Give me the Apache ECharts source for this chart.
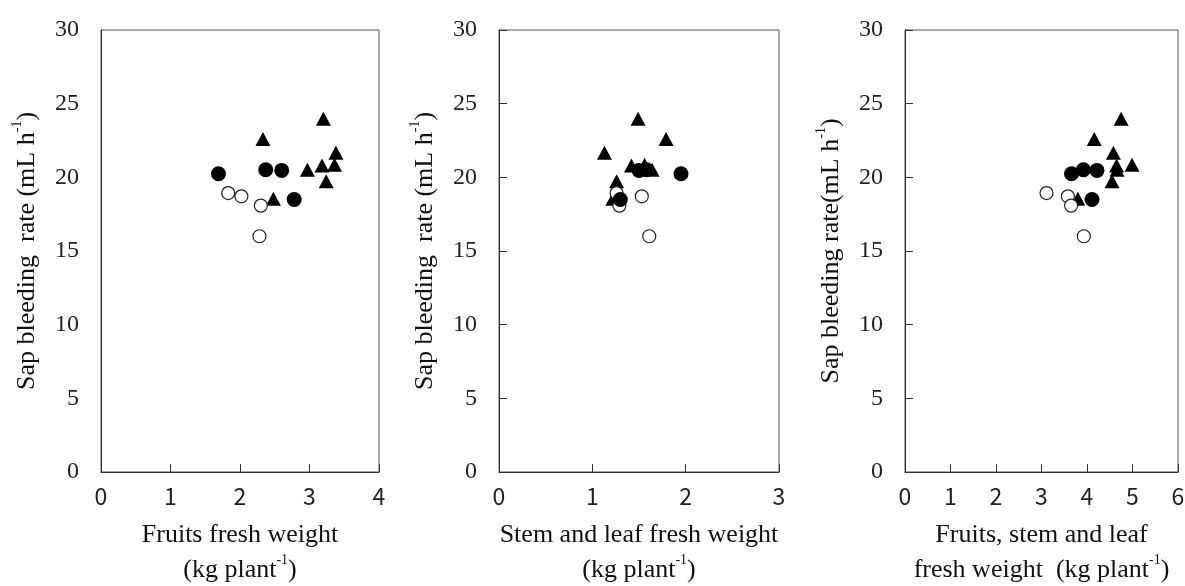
<!DOCTYPE html>
<html>
<head>
<meta charset="utf-8">
<script src="https://cdn.jsdelivr.net/npm/echarts@6/dist/echarts.min.js"></script>
<style>
html, body { margin: 0; padding: 0; background: #fff; }
#chart { width: 1185px; height: 586px; }
</style>
</head>
<body>
<div id="chart"></div>
<script>
// sap bleeding rate (mL h-1), same plants in every panel
const rateOpen = [18.93, 18.71, 18.08, 16.0];
const rateFilled = [20.24, 20.51, 20.47, 18.50];
const rateTri = [23.97, 22.61, 21.67, 20.51, 20.81, 20.85, 19.74, 18.55];

// fruits fresh weight (kg plant-1)
const fruitOpen = [1.83, 2.02, 2.30, 2.28];
const fruitFilled = [1.69, 2.37, 2.60, 2.78];
const fruitTri = [3.20, 2.33, 3.38, 2.97, 3.18, 3.36, 3.24, 2.48];

// stem and leaf fresh weight
const stemOpen = [1.26, 1.53, 1.29, 1.61];
const stemFilled = [1.95, 1.58, 1.50, 1.30];
const stemTri = [1.49, 1.79, 1.13, 1.64, 1.42, 1.56, 1.26, 1.22];

// fruits, stem and leaf fresh weight
const totalOpen = [3.11, 3.58, 3.65, 3.93];
const totalFilled = [3.66, 3.92, 4.22, 4.11];
const totalTri = [4.75, 4.16, 4.58, 4.66, 4.65, 4.99, 4.55, 3.80];

const xMax = [4, 3, 6];
const yTicks = [0, 5, 10, 15, 20, 25, 30];

const serif = 'Liberation Serif';
const pairs = (xs, ys) => xs.map((x, i) => [x, ys[i]]);

const rich = {
  t: { fontFamily: serif, fontSize: 26, lineHeight: 35, color: '#111' },
  s: { fontFamily: serif, fontSize: 14, lineHeight: 33, verticalAlign: 'top', color: '#111' }
};

const xNames = [
  '{t|Fruits fresh weight}\n{t|(kg plant}{s|-1}{t|)}',
  '{t|Stem and leaf fresh weight}\n{t|(kg plant}{s|-1}{t|)}',
  '{t|Fruits, stem and leaf}\n{t|fresh weight  (kg plant}{s|-1}{t|)}'
];
const yNames = [
  '{t|Sap bleeding  rate (mL h}{s|-1}{t|)}',
  '{t|Sap bleeding  rate (mL h}{s|-1}{t|)}',
  '{t|Sap bleeding rate(mL h}{s|-1}{t|)}'
];

const grids = [
  { left: 101, top: 30, width: 278, height: 442 },
  { left: 499, top: 30, width: 280, height: 442 },
  { left: 905, top: 30, width: 273, height: 442 }
];

const panels = [
  [fruitOpen, fruitFilled, fruitTri],
  [stemOpen, stemFilled, stemTri],
  [totalOpen, totalFilled, totalTri]
];

const series = [];
panels.forEach((p, i) => {
  series.push({
    type: 'scatter', xAxisIndex: i, yAxisIndex: i, z: 2,
    symbol: 'triangle', symbolSize: [15, 14],
    itemStyle: { color: '#000', opacity: 1 },
    data: pairs(p[2], rateTri)
  });
  series.push({
    type: 'scatter', xAxisIndex: i, yAxisIndex: i, z: 3,
    symbol: 'circle', symbolSize: 13,
    itemStyle: { color: '#fff', borderColor: '#222', borderWidth: 1.2, opacity: 1 },
    data: pairs(p[0], rateOpen)
  });
  series.push({
    type: 'scatter', xAxisIndex: i, yAxisIndex: i, z: 4,
    symbol: 'circle', symbolSize: 15,
    itemStyle: { color: '#000', opacity: 1 },
    data: pairs(p[1], rateFilled)
  });
});

const myChart = echarts.init(document.getElementById('chart'));

const option = {
  animation: false,
  backgroundColor: '#fff',
  grid: grids.map(g => Object.assign({
    show: true, borderColor: '#555', borderWidth: 1,
    containLabel: false, outerBoundsMode: 'none'
  }, g)),
  xAxis: xMax.map((m, i) => ({
    type: 'value', gridIndex: i, min: 0, max: m, interval: 1,
    name: xNames[i], nameLocation: 'middle', nameGap: 46,
    nameTextStyle: { rich: rich, align: 'center' },
    axisLine: { show: true, lineStyle: { color: '#333' } },
    axisTick: { show: true, inside: true, length: 8, lineStyle: { color: '#333' } },
    axisLabel: { fontFamily: 'Noto Sans CJK JP', fontSize: 23, color: '#222', margin: 13 },
    splitLine: { show: false }
  })),
  yAxis: xMax.map((m, i) => ({
    type: 'value', gridIndex: i, min: yTicks[0], max: yTicks[yTicks.length - 1], interval: 5,
    name: yNames[i], nameLocation: 'middle', nameGap: 56,
    nameTextStyle: { rich: rich },
    axisLine: { show: true, lineStyle: { color: '#333' } },
    axisTick: { show: i > 0, inside: true, length: 8, lineStyle: { color: '#333' } },
    axisLabel: { fontFamily: serif, fontSize: 24, color: '#222', margin: 22 },
    splitLine: { show: false }
  })),
  series: series
};

myChart.setOption(option);
</script>
</body>
</html>
